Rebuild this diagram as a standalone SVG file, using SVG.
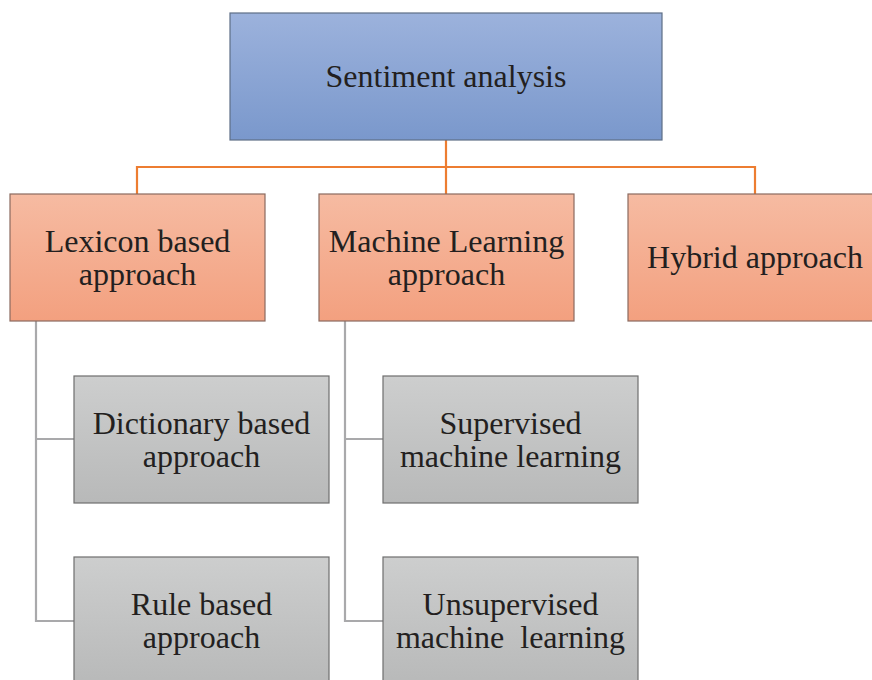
<svg xmlns="http://www.w3.org/2000/svg" width="872" height="680" viewBox="0 0 872 680">
<defs>
<linearGradient id="gBlue" x1="0" y1="0" x2="0" y2="1"><stop offset="0" stop-color="#9CB2DC"/><stop offset="1" stop-color="#7A98CC"/></linearGradient>
<linearGradient id="gOrange" x1="0" y1="0" x2="0" y2="1"><stop offset="0" stop-color="#F6BBA2"/><stop offset="1" stop-color="#F3A07F"/></linearGradient>
<linearGradient id="gGray" x1="0" y1="0" x2="0" y2="1"><stop offset="0" stop-color="#CDCECE"/><stop offset="1" stop-color="#B8B9B9"/></linearGradient>
<style>
.t{font-family:"Liberation Serif","Times New Roman",serif;font-size:32px;fill:#231F20;text-anchor:middle;white-space:pre}
.blue{fill:url(#gBlue);stroke:#5E6E86;stroke-width:1.2}
.org{fill:url(#gOrange);stroke:#8B6A5F;stroke-width:1.2}
.gry{fill:url(#gGray);stroke:#6E6E6E;stroke-width:1.2}
.oc{fill:none;stroke:#ED7D31;stroke-width:2.2}
.gc{fill:none;stroke:#A9A9AB;stroke-width:2.2}
</style>
</defs>
<g id="connectors">
<path class="oc" d="M446 140 V194 M137 194 V167 H755 V194"/>
<path class="gc" d="M36 321 V621 H74 M36 439 H74"/>
<path class="gc" d="M345 321 V621 H383 M345 439 H383"/>
</g>
<g id="sentiment"><rect class="blue" x="230" y="13" width="432" height="127"/><text class="t" x="446" y="87">Sentiment analysis</text></g>
<g id="lexicon"><rect class="org" x="10" y="194" width="255" height="127"/><text class="t" x="137.5" y="252">Lexicon based</text><text class="t" x="137.5" y="285">approach</text></g>
<g id="ml"><rect class="org" x="319" y="194" width="255" height="127"/><text class="t" x="446.5" y="252">Machine Learning</text><text class="t" x="446.5" y="285">approach</text></g>
<g id="hybrid"><rect class="org" x="628" y="194" width="255" height="127"/><text class="t" x="755" y="268">Hybrid approach</text></g>
<g id="dictionary"><rect class="gry" x="74" y="376" width="255" height="127"/><text class="t" x="201.5" y="434">Dictionary based</text><text class="t" x="201.5" y="467">approach</text></g>
<g id="rule"><rect class="gry" x="74" y="557" width="255" height="127"/><text class="t" x="201.5" y="615">Rule based</text><text class="t" x="201.5" y="648">approach</text></g>
<g id="supervised"><rect class="gry" x="383" y="376" width="255" height="127"/><text class="t" x="510.5" y="434">Supervised</text><text class="t" x="510.5" y="467">machine learning</text></g>
<g id="unsupervised"><rect class="gry" x="383" y="557" width="255" height="127"/><text class="t" x="510.5" y="615">Unsupervised</text><text class="t" x="510.5" y="648">machine  learning</text></g>
</svg>
